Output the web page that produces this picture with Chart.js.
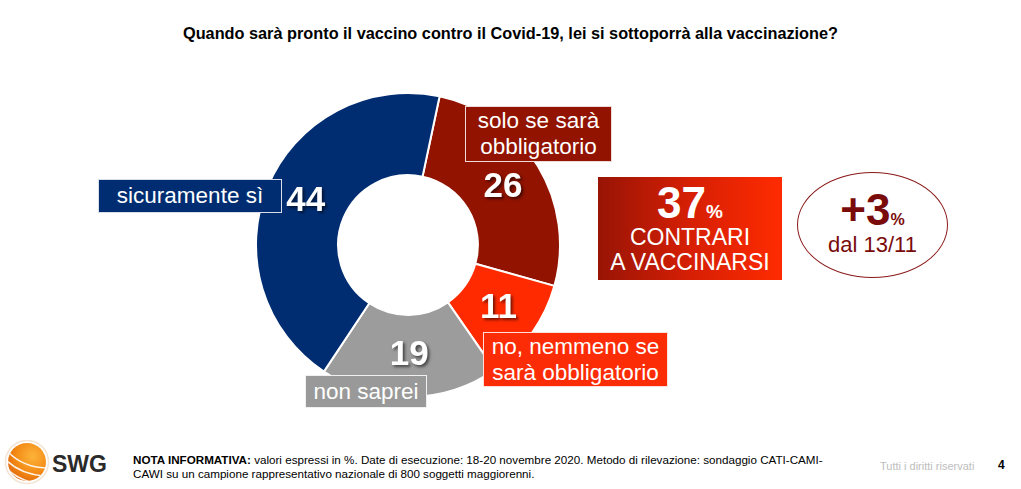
<!DOCTYPE html>
<html><head><meta charset="utf-8">
<script src="https://cdn.jsdelivr.net/npm/chart.js@4.4.0/dist/chart.umd.min.js"></script>
<style>
html,body{margin:0;padding:0;background:#fff;}
#page{position:relative;width:1021px;height:489px;overflow:hidden;font-family:Arial,"Liberation Sans",sans-serif;}
.abs{position:absolute;white-space:nowrap;}
#title{left:0;width:1021px;top:24px;text-align:center;font-weight:bold;font-size:16.3px;line-height:19px;color:#000;}
#chartBox{position:absolute;left:255px;top:92px;width:306px;height:306px;}
.lbl{position:absolute;color:#fff;font-size:22.5px;line-height:26px;text-align:center;box-sizing:border-box;border:1px solid rgba(255,255,255,0.85);display:flex;flex-direction:column;justify-content:center;align-items:center;white-space:nowrap;}
.val{position:absolute;color:#fff;font-weight:bold;font-size:35px;line-height:36px;transform:translate(-50%,-50%);text-shadow:2px 2px 3px rgba(0,0,0,0.55);white-space:nowrap;}
.c{text-align:center;}
</style></head>
<body><div id="page">
<div id="title" class="abs"></div>
<div id="chartBox"><canvas id="chart" width="306" height="306"></canvas></div>
<div id="labels"></div>

<div class="abs" style="left:598px;top:177px;width:184px;height:103px;background:linear-gradient(90deg,#981405 0%,#d61f04 50%,#ff2b00 100%);"></div>
<div class="abs c" id="sumVal" style="left:598px;width:184px;top:181px;font-size:44px;line-height:44px;font-weight:bold;color:#fff;"></div>
<div class="abs c" id="sumL1" style="left:598px;width:184px;top:225px;font-size:23px;line-height:24px;color:#fff;"></div>
<div class="abs c" id="sumL2" style="left:598px;width:184px;top:250px;font-size:23px;line-height:24px;color:#fff;"></div>

<div class="abs" style="left:797px;top:172px;width:151px;height:106px;box-sizing:border-box;border:1px solid #8a1a1a;border-radius:50%;"></div>
<div class="abs c" id="chgVal" style="left:797px;width:151px;top:188px;font-size:44px;line-height:44px;font-weight:bold;color:#7a0b0b;"></div>
<div class="abs c" id="chgL" style="left:797px;width:151px;top:234px;font-size:22px;line-height:22px;color:#7a0b0b;"></div>

<svg class="abs" style="left:4px;top:440px;" width="46" height="46" viewBox="0 0 46 46">
<defs><radialGradient id="lg" cx="0.65" cy="0.35" r="0.75"><stop offset="0" stop-color="#fdb43a"/><stop offset="0.6" stop-color="#f38b16"/><stop offset="1" stop-color="#e0650a"/></radialGradient>
<clipPath id="cp"><circle cx="23" cy="22" r="19"/></clipPath></defs>
<circle cx="23" cy="22" r="21.5" fill="none" stroke="#f3e3d3" stroke-width="1.5"/>
<circle cx="23" cy="22" r="19" fill="url(#lg)"/>
<g clip-path="url(#cp)" fill="none" stroke="#fff" stroke-width="1.6" opacity="0.9">
<path d="M2 20 Q16 34 40 36"/><path d="M2 28 Q14 40 34 44"/><path d="M4 12 Q20 28 44 28"/>
</g>
</svg>
<div class="abs" style="left:52px;top:451px;font-size:23px;line-height:26px;font-weight:bold;color:#2a2a2a;">SWG</div>
<div class="abs" id="note" style="left:133px;top:453px;font-size:11.65px;line-height:14px;color:#000;"></div>
<div class="abs" style="left:880px;top:459px;font-size:11px;line-height:14px;color:#bdbdbd;">Tutti i diritti riservati</div>
<div class="abs" style="left:998px;top:458px;font-size:12px;line-height:14px;font-weight:bold;color:#000;">4</div>
</div>
<script>
const titleText = 'Quando sarà pronto il vaccino contro il Covid-19, lei si sottoporrà alla vaccinazione?';
const categories = [['solo se sarà','obbligatorio'], ['no, nemmeno se','sarà obbligatorio'], ['non saprei'], ['sicuramente sì']];
const values = [26, 11, 19, 44];
const summaryValue = 37;
const summaryLabel = ['CONTRARI', 'A VACCINARSI'];
const changeValue = '+3';
const changeLabel = 'dal 13/11';
const noteBold = 'NOTA INFORMATIVA:';
const noteLines = [' valori espressi in %. Date di esecuzione: 18-20 novembre 2020. Metodo di rilevazione: sondaggio CATI-CAMI-', 'CAWI su un campione rappresentativo nazionale di 800 soggetti maggiorenni.'];

const sliceColors = ['#921300', '#ff2a00', '#9c9c9c', '#002d72'];
const boxColors = ['#921300', '#fc2c06', '#999999', '#002d72'];
const boxRects = [[465,106,147,56],[483,332,185,55],[305,375,122,33],[98,179,184,34]];

document.getElementById('title').textContent = titleText;
document.getElementById('sumVal').innerHTML = summaryValue + '<span style="font-size:19px;">%</span>';
document.getElementById('sumL1').textContent = summaryLabel[0];
document.getElementById('sumL2').textContent = summaryLabel[1];
document.getElementById('chgVal').innerHTML = changeValue + '<span style="font-size:16px;">%</span>';
document.getElementById('chgL').textContent = changeLabel;
document.getElementById('note').innerHTML = '<b>' + noteBold + '</b>' + noteLines[0] + '<br>' + noteLines[1];

const lblLayer = document.getElementById('labels');
const valueEls = [];
categories.forEach((lines, i) => {
  const r = boxRects[i];
  const d = document.createElement('div');
  d.className = 'lbl';
  d.style.left = r[0] + 'px'; d.style.top = r[1] + 'px';
  d.style.width = r[2] + 'px'; d.style.height = r[3] + 'px';
  d.style.background = boxColors[i];
  lines.forEach(t => { const s = document.createElement('div'); s.textContent = t; d.appendChild(s); });
  lblLayer.appendChild(d);
  const v = document.createElement('div');
  v.className = 'val';
  v.textContent = values[i];
  lblLayer.appendChild(v);
  valueEls.push(v);
});

const placeValues = {
  id: 'placeValues',
  afterDraw(chart) {
    const meta = chart.getDatasetMeta(0);
    const box = document.getElementById('chartBox');
    meta.data.forEach((arc, i) => {
      const p = arc.tooltipPosition();
      valueEls[i].style.left = (box.offsetLeft + p.x) + 'px';
      valueEls[i].style.top = (box.offsetTop + p.y - 3) + 'px';
    });
  }
};

new Chart(document.getElementById('chart'), {
  type: 'doughnut',
  data: {
    labels: categories.map(c => c.join(' ')),
    datasets: [{ data: values, backgroundColor: sliceColors, borderColor: '#ffffff', borderWidth: 2 }]
  },
  options: {
    responsive: false,
    animation: false,
    rotation: 12,
    cutout: '46%',
    layout: { padding: 0 },
    plugins: { legend: { display: false }, tooltip: { enabled: false } }
  },
  plugins: [placeValues]
});
</script>
</body></html>
